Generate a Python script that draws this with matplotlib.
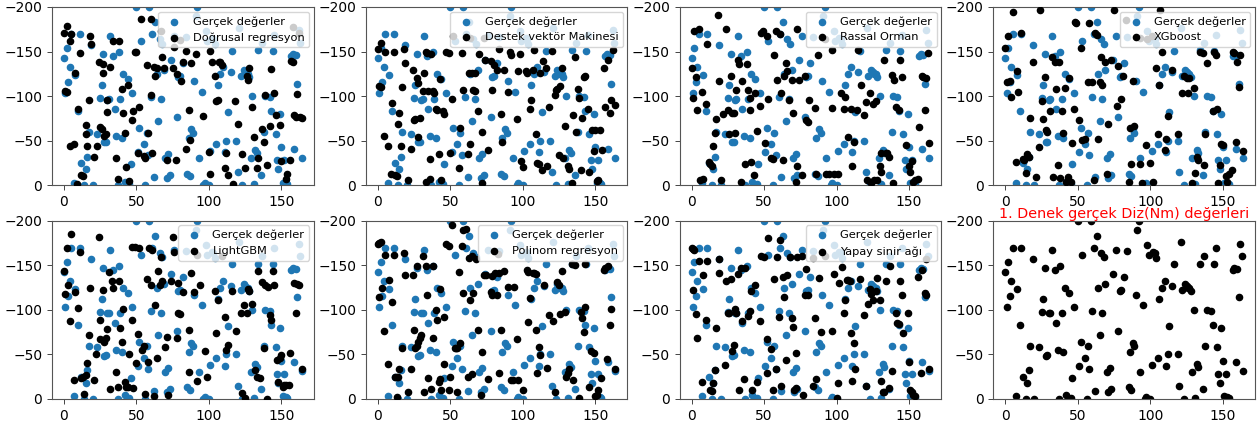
import matplotlib
matplotlib.use("Agg")
import matplotlib.pyplot as plt

# ---- true values (Gerçek değerler): sample index / torque value ----
true_idx = [0, 1, 2, 3, 4, 5, 7, 8, 10, 11, 12, 14, 15, 16, 17, 19, 20, 23, 25, 26,
            27, 28, 29, 30, 31, 32, 34, 35, 36, 37, 38, 39, 40, 41, 42, 44, 45, 46, 47, 50,
            51, 52, 53, 55, 56, 57, 58, 59, 60, 61, 62, 63, 64, 65, 66, 67, 68, 69, 70, 71,
            72, 73, 74, 76, 78, 79, 80, 82, 84, 85, 86, 87, 88, 89, 90, 91, 92, 93, 95, 96,
            97, 98, 99, 100, 101, 102, 103, 104, 105, 106, 108, 110, 111, 112, 113, 115, 116, 119, 120, 121,
            122, 123, 124, 125, 126, 127, 128, 129, 130, 131, 132, 133, 134, 136, 137, 138, 139, 142, 143, 144,
            145, 146, 147, 148, 149, 150, 151, 152, 153, 154, 157, 158, 159, 160, 161, 162, 163, 164]
true_val = [-143, -103, -154, -116, -133, -170, -3, -124, -83, -170, -25, 0, -18, -32, -60, -157, 0, -58, -98, -112,
            -147, -48, -49, -96, -97, -167, -145, -85, -55, 0, -149, -97, -53, -125, -4, -119, -1, -24, -103, -200,
            -37, -64, -162, -46, 0, -59, -34, -200, -99, -170, -9, -183, -125, -72, -164, -97, -159, -129, -30, -7.5,
            -35, -11, -140, -167, -76, -121, -122, -137, -166, -13, -53, -10, -63, -59, -117, -190, -200, -30, -105, 0,
            -2, -173, -162, 0, -38, -165, -164, -158, -46, -112, -125, -133, -37, -50, -82, -127, -151, -50, -15, -176,
            -122, 0, -129, -127, -125, -125, -121, -30, -100, -1, -39, -36, -152, -11, -160, -60, -100, -99, -83, -151,
            -169, -58, -28, -18, -80, -43, -3, -28, -2, -1, -145, -147, -41, -146, -114, -174, -160, -31]

# ---- model predictions: sample index / predicted value ----
lr_x = [0, 2, 1, 2, 4, 5, 4, 7, 8, 10, 11, 12, 13, 9, 15, 15, 16, 17, 18, 19,
        21, 23, 24, 25, 26, 27, 27, 28, 29, 30, 30, 32, 34, 36, 37, 38, 40, 41, 42, 43,
        44, 45, 47, 48, 49, 50, 51, 52, 53, 55, 56, 57, 58, 60, 60, 61, 62, 63, 64, 67,
        68, 69, 71, 75, 77, 78, 80, 81, 82, 84, 84, 86, 87, 88, 91, 96, 100, 101, 101, 102,
        104, 106, 105, 107, 108, 109, 111, 112, 113, 117, 118, 120, 123, 125, 126, 127, 128, 130, 131, 133,
        134, 137, 138, 139, 140, 142, 143, 145, 146, 149, 150, 153, 154, 156, 157, 158, 159, 160, 161, 163,
        164, 76, 158, 162]
lr_y = [-171, -179, -106, -105, -162, -170, -44, -46, -126, -86, -148, -11, -10, -1, -67, -58, -44, -96, -167, -158,
        -32, -44, -138, -65, -63, -126, -136, -55, -58, -82, -96, -133, -162, -30, -7, -162, -108, -81, -59, -20,
        -113, -5, -73, -83, -150, -149, -36, -88, -187, -33, -30, -135, -59, -101, -187, -36, -133, -123, -132, -173,
        -144, -131, -28, -132, -28, -125, -163, -117, -138, -151, -41, -84, -51, -137, -147, -78, -37, -13, -151, -138,
        -123, -96, -94, -138, -138, -135, -19, -36, -11, -1, -94, -69, -35, -19, -122, -118, -132, -88, -54, -19,
        -30, -63, -48, -101, -23, -66, -130, -103, -79, -67, -27, -7, -13, -28, -139, -138, -79, -77, -102, -76,
        -75, -155, -178, -171]

svm_x = [0, 2, 1, 2, 4, 5, 7, 9, 10, 11, 12, 13, 14, 15, 16, 17, 18, 19, 21, 23,
         24, 25, 26, 27, 28, 28, 29, 31, 32, 33, 33, 34, 35, 36, 36, 37, 38, 39, 40, 41,
         42, 43, 44, 45, 46, 47, 49, 50, 51, 52, 56, 57, 58, 59, 62, 63, 64, 65, 66, 67,
         67, 69, 70, 72, 72, 73, 74, 76, 78, 79, 80, 82, 84, 85, 86, 87, 90, 91, 92, 96,
         97, 99, 100, 98, 102, 103, 105, 106, 107, 108, 109, 110, 111, 112, 113, 114, 116, 117, 118, 120,
         122, 123, 124, 125, 126, 127, 128, 129, 131, 132, 134, 135, 136, 137, 138, 139, 140, 141, 142, 143,
         145, 146, 148, 149, 150, 151, 152, 153, 155, 156, 157, 159, 160, 161, 162, 164, 64]
svm_y = [-153, -160, -111, -110, -55, -150, -44, -13, -92, -150, -11, -10, -69, -81, -44, -110, -153, -137, -6, -41,
         -129, -73, -74, -120, -115, -54, -75, -106, -126, -4, -149, -148, -106, -29, -7, -147, -106, -104, -86, -84,
         -35, -119, -6, -83, -80, -149, -148, -36, -97, -167, -19, -64, -148, -107, -35, -126, -46, -126, -107, -126,
         -106, -83, -147, -2, -60, -165, -141, -40, -139, -107, -135, -129, -153, -80, -49, -129, -105, -149, -146, -74,
         -128, -27, -20, -147, -128, -126, -86, -96, -129, -152, -57, -25, -24, -126, -17, -139, -131, -22, -88, -151,
         -101, -107, -108, -34, -111, -131, -30, -66, -21, -18, -2, -79, -144, -60, -108, -98, -17, -75, -121, -122,
         -86, -15, -62, -38, -62, -5, -6, -62, -40, -131, -88, -140, -81, -96, -152, -90, -165]

rf_x = [0, 1, 2, 3, 4, 5, 6, 7, 8, 10, 11, 12, 13, 14, 15, 16, 17, 18, 19, 20,
        22, 24, 25, 26, 27, 28, 29, 30, 31, 32, 33, 34, 35, 37, 38, 39, 40, 40, 41, 43,
        44, 45, 47, 48, 49, 51, 52, 53, 55, 56, 57, 58, 59, 61, 62, 63, 64, 65, 66, 67,
        69, 70, 72, 73, 73, 74, 76, 78, 79, 80, 81, 85, 86, 87, 93, 95, 97, 97, 98, 101,
        103, 105, 106, 108, 110, 111, 112, 114, 115, 117, 119, 120, 121, 123, 124, 125, 126, 127, 128, 130,
        131, 131, 133, 134, 135, 136, 138, 139, 140, 141, 143, 144, 145, 148, 150, 151, 152, 153, 154, 156,
        157, 159, 160, 161, 162, 163, 164, 92]
rf_y = [-132, -98, -173, -121, -84, -175, -6, -105, -7, -91, -159, -26, -24, -22, -44, -59, -74, -191, -117, -6,
        -80, -175, -84, -57, -123, -81, -81, -59, -107, -141, -136, -4, -117, -24, -136, -107, -98, -84, -26, -11,
        -103, -61, -89, -171, -173, -47, -167, -97, -30, -29, -146, -173, -118, -170, -104, -28, -122, -137, -128, -96,
        -118, -81, -4, -22, -175, -118, -11, -123, -73, -71, -96, -87, -13, -146, -13, -13, -87, -152, -13, -13,
        -104, -86, -99, -54, -86, -22, -49, -84, -152, -113, -79, -93, -6, -104, -3, -91, -6, -95, -6, -21,
        -15, -36, -140, -36, -36, -32, -124, -3, -118, -88, -84, -140, -121, -45, -22, -15, -27, -4, -6, -7,
        -65, -122, -121, -84, -120, -148, -47, -164]

xgb_x = [0, 1, 2, 3, 4, 5, 7, 8, 9, 11, 12, 13, 14, 15, 16, 17, 19, 21, 23, 24,
         25, 26, 27, 28, 29, 31, 32, 33, 34, 35, 36, 37, 38, 39, 40, 41, 42, 43, 44, 45,
         46, 47, 48, 49, 51, 52, 53, 55, 57, 58, 60, 61, 62, 63, 64, 65, 66, 67, 69, 70,
         71, 73, 75, 77, 78, 80, 81, 85, 86, 87, 88, 89, 93, 94, 97, 100, 102, 104, 105, 106,
         107, 108, 110, 111, 112, 115, 119, 122, 123, 125, 126, 127, 129, 130, 131, 132, 133, 134, 136, 137,
         138, 139, 143, 144, 145, 146, 147, 148, 149, 150, 152, 153, 154, 156, 157, 158, 159, 160, 161, 162,
         164, 83, 93, 98, 101]
xgb_y = [-154, -116, -168, -117, -99, -194, -26, -128, -105, -171, -29, -28, -14, -35, -32, -75, -138, -9, -43, -197,
         -94, -74, -121, -62, -60, -83, -144, -9, -138, -108, -23, -138, -8, -83, -59, -109, -4, -9, -120, -4,
         -47, -86, -183, -182, -73, -154, -51, -52, -116, -182, -116, -6, -171, -169, -52, -116, -144, -113, -138, -13,
         -69, -141, -197, -89, -134, -97, -123, -4, -64, -24, -117, -66, -24, -2, -45, -25, -4, -131, -58, -113,
         -197, -150, -39, -52, -78, -129, -58, -103, -123, -120, -103, -120, -2, -109, -14, -32, -28, -150, -148, -23,
         -58, -137, -83, -150, -146, -86, -2, -23, -46, -45, -10, -4, -12, -17, -150, -148, -48, -138, -110, -146,
         -38, -185, -165, -164, -168]

lgbm_x = [0, 1, 2, 3, 4, 5, 7, 8, 10, 11, 12, 13, 14, 15, 16, 17, 18, 21, 22, 24,
          25, 25, 27, 28, 29, 30, 31, 32, 33, 34, 36, 37, 38, 39, 40, 41, 42, 43, 44, 45,
          47, 47, 48, 49, 50, 51, 52, 54, 55, 56, 57, 58, 59, 60, 61, 62, 63, 64, 65, 66,
          67, 68, 70, 71, 72, 74, 75, 76, 78, 79, 79, 80, 82, 86, 86, 88, 90, 92, 94, 97,
          99, 104, 105, 106, 111, 112, 113, 116, 119, 122, 123, 124, 125, 126, 127, 128, 130, 132, 133, 134,
          135, 137, 138, 139, 140, 141, 142, 143, 144, 145, 147, 148, 149, 150, 151, 152, 153, 155, 156, 159,
          160, 161, 162, 164, 92, 109]
lgbm_y = [-144, -118, -170, -128, -88, -185, -21, -120, -102, -165, -24, -25, -6, -27, -40, -72, -125, -21, -50, -182,
          -89, -67, -122, -64, -68, -79, -143, -11, -133, -125, -30, -14, -133, -80, -64, -101, -19, -14, -14, -50,
          -89, -171, -12, -171, -40, -73, -169, -55, -59, -6, -135, -42, -170, -128, -167, -3, -106, -46, -144, -128,
          -159, -133, -58, -70, -4, -132, -182, -165, -68, -130, -96, -95, -120, -78, -30, -141, -120, -20, -128, -54,
          -25, -121, -74, -111, -92, -55, -61, -121, -76, -97, -7, -105, -1, -97, -124, -121, -107, -32, -25, -144,
          -24, -131, -57, -128, 0, -126, -94, -89, -144, -128, -44, -19, -46, -49, -13, -16, -16, -16, -52, -130,
          -96, -129, -128, -34, -162, -160]

poly_x = [0, 1, 2, 1, 3, 4, 5, 7, 8, 10, 11, 12, 13, 14, 13, 15, 17, 18, 19, 21,
          23, 24, 25, 26, 27, 27, 28, 29, 30, 31, 32, 33, 34, 35, 37, 38, 38, 40, 41, 42,
          43, 43, 44, 46, 46, 47, 49, 49, 50, 51, 53, 54, 55, 55, 56, 57, 58, 59, 61, 62,
          63, 64, 65, 65, 66, 68, 69, 71, 72, 73, 75, 76, 78, 79, 79, 81, 82, 84, 84, 85,
          87, 90, 92, 93, 94, 96, 97, 100, 103, 104, 104, 105, 107, 108, 109, 109, 110, 111, 112, 115,
          117, 118, 121, 122, 124, 125, 126, 127, 129, 130, 131, 132, 134, 135, 136, 139, 140, 141, 142, 143,
          143, 146, 147, 149, 150, 151, 152, 154, 156, 157, 158, 159, 160, 161, 164, 83, 59]
poly_y = [-174, -175, -176, -115, -125, -76, -162, -39, -134, -109, -162, -25, -25, -25, -2, -34, -57, -164, -139, -8,
          -34, -139, -78, -57, -149, -59, -64, -69, -72, -161, -8, -149, -117, -24, -11, -149, -69, -100, -89, -19,
          -22, -124, -10, -39, -92, -174, -10, -172, -25, -195, -57, -57, -8, -57, -142, -63, -172, -119, -191, -25,
          -158, -111, -28, -160, -119, -157, -78, -5, -53, -139, -139, -22, -120, -138, -117, -141, -117, -141, -29, -78,
          -144, -126, -21, -21, -126, -67, -21, -10, -145, -143, -86, -113, -141, -141, -140, -78, -29, -58, -49, -128,
          -35, -94, -88, -8, -131, -128, -95, -144, -98, -25, -29, -34, -151, -21, -150, -1, -98, -91, -75, -103,
          -151, -14, -54, -52, -3, -4, -10, -24, -145, -147, -45, -149, -83, -101, -34, -163, -190]

ann_x = [0, 1, 2, 1, 3, 4, 5, 7, 8, 10, 11, 13, 14, 15, 16, 17, 19, 19, 23, 24,
         25, 26, 27, 28, 29, 30, 31, 32, 33, 34, 35, 36, 37, 39, 40, 41, 42, 44, 45, 47,
         48, 50, 52, 52, 53, 55, 56, 57, 58, 59, 60, 61, 62, 63, 64, 65, 66, 68, 69, 70,
         71, 72, 72, 73, 76, 77, 78, 79, 80, 84, 85, 86, 88, 89, 92, 97, 98, 100, 101, 102,
         104, 105, 106, 107, 108, 109, 110, 111, 112, 113, 116, 119, 120, 122, 123, 124, 125, 127, 128, 130,
         131, 132, 133, 134, 136, 137, 138, 141, 142, 143, 144, 145, 146, 149, 150, 151, 152, 153, 154, 156,
         158, 159, 161, 162, 164, 84, 162]
ann_y = [-169, -168, -167, -122, -95, -69, -155, -19, -139, -89, -155, -10, -9, -18, -32, -80, -157, -141, -38, -133,
         -97, -96, -135, -54, -61, -101, -97, -140, -10, -147, -88, -22, -147, -93, -99, -121, -10, -128, -19, -88,
         -161, -159, -29, -67, -181, -56, -10, -135, -34, -159, -92, -179, -15, -137, -115, -44, -139, -159, -91, -81,
         -10, -12, -52, -159, -161, -5, -117, -146, -117, -15, -91, -22, -136, -75, -160, -76, -140, -1, -18, -130,
         -148, -96, -111, -134, -134, -133, -74, -20, -63, -34, -135, -94, -15, -107, -123, -118, -111, -121, -136, -111,
         -20, -8, -8, -133, -12, -149, -31, -96, -85, -84, -132, -117, -74, -97, -42, -10, -8, -4, -3, -137,
         -29, -145, -119, -117, -34, -158, -157]

model_names = ["Doğrusal regresyon", "Destek vektör Makinesi", "Rassal Orman", "XGboost",
               "LightGBM", "Polinom regresyon", "Yapay sinir ağı"]
model_x = [lr_x, svm_x, rf_x, xgb_x, lgbm_x, poly_x, ann_x]
model_y = [lr_y, svm_y, rf_y, xgb_y, lgbm_y, poly_y, ann_y]
true_label = "Gerçek değerler"
last_title = "1. Denek gerçek Diz(Nm) değerleri"
y_ticks = [0, -50, -100, -150, -200]
x_ticks = [0, 50, 100, 150]

fig, axes = plt.subplots(2, 4, figsize=(12.57, 4.21), dpi=100)
fig.subplots_adjust(left=52 / 1257, right=1255 / 1257, top=1 - 7 / 421,
                    bottom=1 - 399 / 421, wspace=0.2, hspace=0.2)
flat = axes.ravel()

def style(ax):
    ax.set_ylim(0, -200)
    ax.set_xlim(-8.2, 172.2)
    ax.set_yticks(y_ticks)
    ax.set_xticks(x_ticks)
    ax.tick_params(labelsize=10, color="#444444", width=0.7)
    for s in ax.spines.values():
        s.set_color("#555555")
        s.set_linewidth(0.8)

for i, name in enumerate(model_names):
    ax = flat[i]
    ax.scatter(true_idx, true_val, s=20, color="#1f77b4", label=true_label, zorder=2)
    ax.scatter(model_x[i], model_y[i], s=20, color="black", label=name, zorder=3)
    style(ax)
    ax.legend(loc="upper right", fontsize=8.2, scatterpoints=1,
              borderaxespad=0.4, handletextpad=0.6)

ax = flat[7]
ax.scatter(true_idx, true_val, s=20, color="black")
style(ax)
ax.set_title(last_title, color="red", fontsize=10.4, pad=1.5)

fig.savefig("out.png", dpi=100)
